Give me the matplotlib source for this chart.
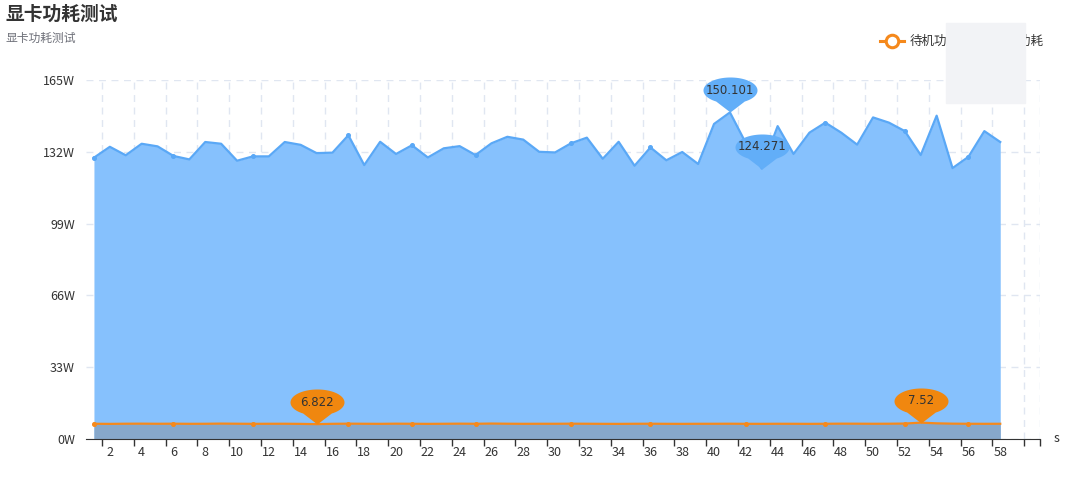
import numpy as np
import matplotlib
matplotlib.use('Agg')
import matplotlib.pyplot as plt
from matplotlib.path import Path
from matplotlib.markers import MarkerStyle
from matplotlib.lines import Line2D
from matplotlib.patches import Rectangle

plt.rcParams['font.family'] = ['Noto Sans CJK SC', 'DejaVu Sans']

# data (seconds 1..58)
seconds = list(range(1, 59))
full_load = [129.3, 134.3, 130.4, 135.7, 134.5, 130.1, 128.5, 136.5, 135.7, 127.9,
             129.9, 129.9, 136.5, 135.2, 131.4, 131.6, 139.6, 125.9, 136.6, 131.0,
             135.0, 129.4, 133.6, 134.6, 130.5, 135.9, 138.9, 137.6, 132.0, 131.7,
             135.9, 138.5, 128.8, 136.6, 125.6, 134.0, 128.1, 131.9, 126.4, 144.8,
             150.101, 136.0, 124.271, 143.8, 131.0, 140.8, 145.4, 140.8, 135.3, 147.8,
             145.4, 141.5, 130.5, 148.6, 124.5, 129.7, 141.5, 136.5]
idle = [7.0, 6.95, 7.02, 7.05, 7.0, 7.03, 6.98, 7.0, 7.08, 7.02,
        6.97, 7.0, 7.01, 6.95, 6.822, 6.98, 7.05, 7.0, 6.97, 7.04,
        7.0, 6.96, 7.0, 7.05, 7.0, 7.1, 7.02, 6.98, 7.0, 7.0,
        7.04, 7.01, 6.97, 6.95, 7.0, 7.02, 6.98, 6.96, 6.99, 7.0,
        7.02, 6.98, 6.97, 7.0, 6.99, 6.96, 7.0, 7.05, 7.03, 7.0,
        7.02, 7.1, 7.52, 7.2, 7.05, 7.0, 6.98, 7.0]
yticks = [0, 33, 66, 99, 132, 165]
xlabels = list(range(2, 59, 2))

blue_line = '#5aa8f6'
blue_fill = '#86c1fd'
blue_pin = '#62aef8'
orange = '#f5891c'
orange_pin = '#f0870f'
low_fill = '#87a8cb'
grid_c = '#e0e6f1'
txt_c = '#333333'


def pin_marker():
    # balloon with its tip at the origin
    a, b, c = 27, 13, 22
    ang = np.radians(np.linspace(-58, 238, 60))
    verts = [(a * np.cos(t), c + b * np.sin(t)) for t in ang]
    verts.append((0, 0))
    verts.append(verts[0])
    codes = [Path.MOVETO] + [Path.LINETO] * (len(verts) - 2) + [Path.CLOSEPOLY]
    return MarkerStyle(Path(verts, codes))


fig = plt.figure(figsize=(10.8, 4.8), dpi=100)
ax = fig.add_axes([86 / 1080, 1 - 439 / 480, (1040 - 86) / 1080, (439 - 80) / 480])

ax.fill_between(seconds, 0, full_load, color=blue_fill, lw=0, zorder=2)
ax.fill_between(seconds, 0, idle, color=low_fill, lw=0, zorder=3)
dots = [0, 5, 10, 16, 20, 24, 30, 35, 41, 46, 51, 55]
ax.plot(seconds, full_load, color=blue_line, lw=1.6, marker='o', ms=2.6,
        markevery=dots, zorder=4)
ax.plot(seconds, idle, color=orange, lw=1.6, marker='o', ms=2.6,
        markevery=dots, zorder=4)

pin = pin_marker()
ms_pin = 70 * 0.72


def add_pin(i, series, color, text):
    ax.plot(seconds[i], series[i], marker=pin, ms=ms_pin, color=color,
            mew=0, ls='none', zorder=6, clip_on=False)
    ax.annotate(text, (seconds[i], series[i]), xytext=(0, 22 * 0.72),
                textcoords='offset points', ha='center', va='center',
                fontsize=8.5, color=txt_c, zorder=7, family='DejaVu Sans')


i_max = int(np.argmax(full_load))
i_min = int(np.argmin(full_load))
add_pin(i_max, full_load, blue_pin, f'{full_load[i_max]:g}')
add_pin(i_min, full_load, blue_pin, f'{full_load[i_min]:g}')
j_max = int(np.argmax(idle))
j_min = int(np.argmin(idle))
add_pin(j_min, idle, orange_pin, f'{idle[j_min]:g}')
add_pin(j_max, idle, orange_pin, f'{idle[j_max]:g}')

ax.set_xlim(0.5, 60.5)
ax.set_ylim(0, 165)
ax.set_yticks(yticks)
ax.set_yticklabels([f'{v}W' for v in yticks])
ax.set_xticks(xlabels)
ax.set_xticklabels([str(v) for v in xlabels])
ax.set_xticks(list(np.arange(1.5, 60, 2)) + [60.5], minor=True)
ax.tick_params(axis='x', which='major', length=0, pad=5, labelsize=9, colors=txt_c)
ax.tick_params(axis='x', which='minor', length=5, width=1, color=txt_c)
ax.tick_params(axis='y', length=0, pad=8, labelsize=9, colors=txt_c)
ax.grid(axis='y', color=grid_c, ls=(0, (5, 4)), lw=1, zorder=0)
ax.grid(axis='x', which='minor', color=grid_c, ls=(0, (5, 4)), lw=1, zorder=0)
ax.grid(axis='x', which='major', visible=False)
for s in ['top', 'right', 'left']:
    ax.spines[s].set_visible(False)
ax.spines['bottom'].set_color(txt_c)
ax.spines['bottom'].set_zorder(8)
ax.text(1.014, 0, 's', transform=ax.transAxes, ha='left', va='center',
        fontsize=9, color=txt_c)

fig.text(5 / 1080, 1 - 14 / 480, '显卡功耗测试', fontsize=13.5, fontweight='bold',
         color=txt_c, va='center', ha='left')
fig.text(5 / 1080, 1 - 38 / 480, '显卡功耗测试', fontsize=8.5, color='#6e7079',
         va='center', ha='left')

# legend
ly = 1 - 41 / 480
fig.add_artist(Line2D([880 / 1080, 904 / 1080], [ly, ly], color=orange, lw=2.2))
fig.add_artist(Line2D([892 / 1080], [ly], marker='o', ms=9, mfc='white',
                      mec=orange, mew=2.2))
fig.text(910 / 1080, ly, '待机功耗', fontsize=9, color=txt_c, va='center', ha='left')
fig.add_artist(Line2D([963 / 1080, 987 / 1080], [ly, ly], color=blue_line, lw=2.2))
fig.add_artist(Line2D([975 / 1080], [ly], marker='o', ms=9, mfc='white',
                      mec=blue_line, mew=2.2))
fig.text(993 / 1080, ly, '满载功耗', fontsize=9, color=txt_c, va='center', ha='left')

# light box over the legend corner, as in the reference
fig.add_artist(Rectangle((946 / 1080, 1 - 103 / 480), 79 / 1080, 80 / 480,
                         transform=fig.transFigure, color='#f2f3f6', zorder=10))

fig.savefig('out.png', dpi=100)
